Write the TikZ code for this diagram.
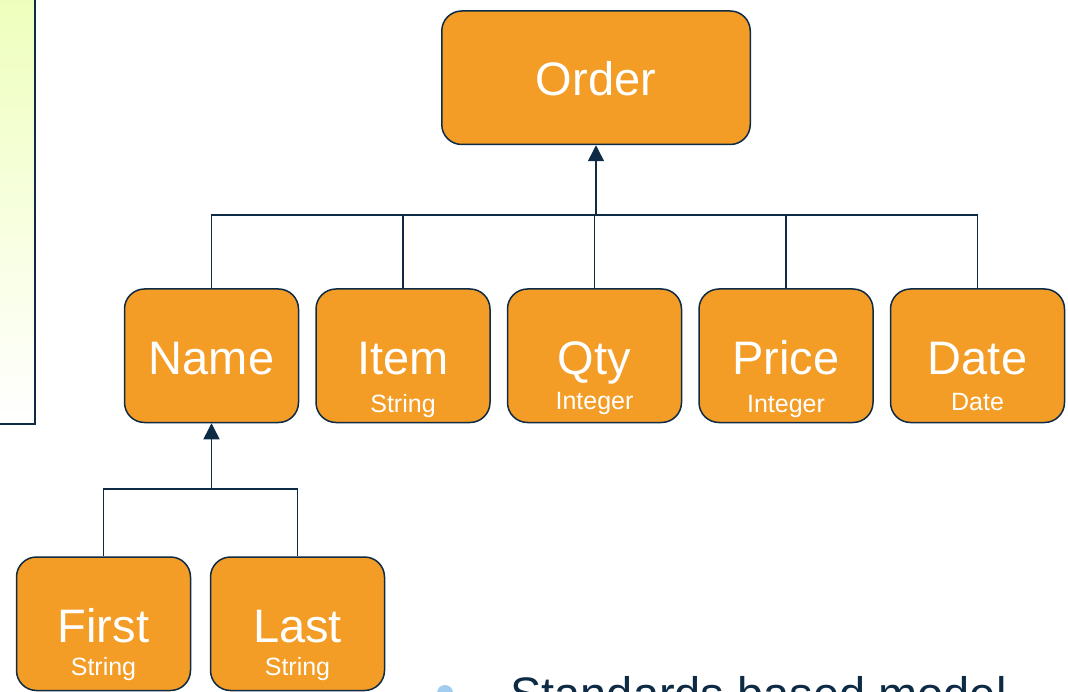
\documentclass[tikz,border=0pt]{standalone}
\usepackage{fontspec}
\setmainfont{Liberation Sans}
\usetikzlibrary{
  arrows.meta,
  positioning,
}
\definecolor{navy}{RGB}{14,43,70}
\definecolor{boxorange}{RGB}{243,156,38}
\definecolor{panelgreen}{RGB}{238,255,188}
\definecolor{bulletblue}{RGB}{160,205,240}
\tikzstyle{field} = [
  rectangle,
  rounded corners=20pt,
  draw=navy,
  line width=1.5pt,
  fill=boxorange,
  text=white,
  minimum width=174pt,
  inner sep=0pt,
  text height=85pt,
  text depth=48.5pt,
  font=\fontsize{47}{50}\selectfont,
]
\tikzstyle{fieldtype} = [
  text=white,
  inner sep=0pt,
  anchor=base,
  font=\fontsize{25}{28}\selectfont,
]
\tikzstyle{link} = [navy, line width=1.6pt]
\tikzstyle{arrow} = [
  -{Triangle[length=16pt,width=16pt]},
  link,
]

\begin{document}
\begin{tikzpicture}[x=1pt, y=-1pt]
  \useasboundingbox (0,0) rectangle (1068,692);
  \clip (0,0) rectangle (1068,692);
  % side panel
  \shade [top color=panelgreen, bottom color=white] (-5,-5) rectangle (35,424);
  \draw [navy, line width=2.5pt] (35,-5) -- (35,424) -- (-5,424);

  \node [field, minimum width=308.5pt, anchor=base] (order) at (596,96) {Order};
  \node [field, anchor=base] (name) at (211.5,374) {Name};
  \node [field, right=16pt of name] (item) {Item};
  \node [field, right=16pt of item] (qty) {Qty};
  \node [field, right=16pt of qty] (price) {Price};
  \node [field, right=16pt of price] (date) {Date};
  \node [field, anchor=base] (first) at (103.5,642) {First};
  \node [field, right=18.5pt of first] (last) {Last};

  \node [fieldtype] (itemtype) at ([yshift=-38pt]item.base) {String};
  \node [fieldtype] (qtytype) at ([yshift=-35pt]qty.base) {Integer};
  \node [fieldtype] (pricetype) at ([yshift=-38pt]price.base) {Integer};
  \node [fieldtype] (datetype) at ([yshift=-36pt]date.base) {Date};
  \node [fieldtype] (firsttype) at ([yshift=-33pt]first.base) {String};
  \node [fieldtype] (lasttype) at ([yshift=-33pt]last.base) {String};

  \coordinate (orderjoin) at (596,215);
  \coordinate (namejoin) at (211.5,489);
  \foreach \f in {name,item,qty,price,date}
    \draw [link] (\f.north) |- (orderjoin);
  \draw [arrow] (orderjoin) -- (order.south);
  \foreach \f in {first,last}
    \draw [link] (\f.north) |- (namejoin);
  \draw [arrow] (namejoin) -- (name.south);

  % bullet line at the bottom
  \fill [bulletblue] (445,693) circle [radius=8pt];
  \node [anchor=base west, inner sep=0pt, text=navy, font=\fontsize{47}{50}\selectfont] (standards) at (510,710) {Standards based model};
\end{tikzpicture}
\end{document}
